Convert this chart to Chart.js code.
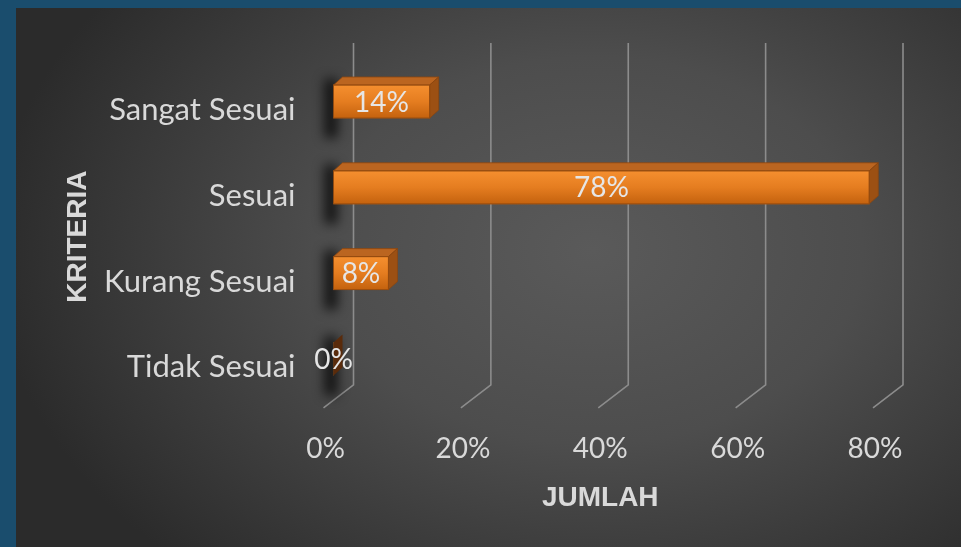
<!DOCTYPE html>
<html><head><meta charset="utf-8">
<script src="https://cdn.jsdelivr.net/npm/chart.js@4"></script>
<style>
html,body{margin:0;padding:0;width:961px;height:547px;overflow:hidden;background:#1a4d6d;}
#panel{position:absolute;left:16px;top:8px;width:945px;height:539px;background:radial-gradient(600px 430px at 61% 45%, #5a5a5a 0%, #4d4d4d 45%, #2b2b2b 100%);}
#wrap{position:absolute;left:0;top:0;width:961px;height:547px;}
</style></head><body>
<div id="panel"></div>
<div id="wrap"><canvas id="c" width="961" height="547"></canvas></div>
<script>
const categories = ['Sangat Sesuai', 'Sesuai', 'Kurang Sesuai', 'Tidak Sesuai'];
const values = [14, 78, 8, 0];
const xTickValues = [0, 20, 40, 60, 80];
const xTitle = 'JUMLAH';
const yTitle = 'KRITERIA';

const DX = 9, DY = 8;
const TXT = '#d9d9d9';

const gridPlugin = {
  id: 'grid3d',
  beforeDatasetsDraw(chart) {
    const ctx = chart.ctx, a = chart.chartArea, xs = chart.scales.x;
    ctx.save();
    ctx.strokeStyle = '#8c8c8c';
    ctx.lineWidth = 1.6;
    xTickValues.forEach(v => {
      const px = xs.getPixelForValue(v);
      ctx.beginPath();
      ctx.moveTo(px + 20, a.top - 15.5);
      ctx.lineTo(px + 20, a.bottom - 17);
      ctx.lineTo(px - 10, a.bottom + 6);
      ctx.stroke();
    });
    // shadows behind bars
    const meta = chart.getDatasetMeta(0);
    ctx.filter = 'blur(6px)';
    ctx.fillStyle = 'rgba(0,0,0,0.75)';
    meta.data.forEach(el => {
      const p = el.getProps(['x', 'y', 'base', 'height'], true);
      const yt = p.y - p.height / 2;
      ctx.fillRect(p.base - 9, yt - 6, 13, p.height + 26);
    });
    ctx.filter = 'none';
    ctx.restore();
  },
  afterDatasetsDraw(chart) {
    const ctx = chart.ctx;
    const meta = chart.getDatasetMeta(0);
    ctx.save();
    meta.data.forEach((el, i) => {
      const p = el.getProps(['x', 'y', 'base', 'height'], true);
      const yt = p.y - p.height / 2, yb = p.y + p.height / 2;
      const x0 = p.base, x1 = p.x;
      if (values[i] > 0) {
        ctx.fillStyle = '#bb6520';
        ctx.beginPath();
        ctx.moveTo(x0, yt); ctx.lineTo(x1, yt); ctx.lineTo(x1 + DX, yt - DY); ctx.lineTo(x0 + DX, yt - DY); ctx.closePath();
        ctx.fill();
        ctx.strokeStyle = 'rgba(140,70,15,0.8)'; ctx.lineWidth = 1; ctx.stroke();
        ctx.fillStyle = '#9c5013';
        ctx.beginPath();
        ctx.moveTo(x1, yt); ctx.lineTo(x1 + DX, yt - DY); ctx.lineTo(x1 + DX, yb - DY); ctx.lineTo(x1, yb); ctx.closePath();
        ctx.fill(); ctx.stroke();
        ctx.strokeStyle = 'rgba(150,75,15,0.9)';
        ctx.strokeRect(x0, yt, x1 - x0, yb - yt);
      } else {
        ctx.fillStyle = '#5a2b0b';
        ctx.beginPath();
        ctx.moveTo(x0, yt); ctx.lineTo(x0 + DX, yt - DY); ctx.lineTo(x0 + DX, yb - DY); ctx.lineTo(x0, yb); ctx.closePath();
        ctx.fill();
      }
    });
    ctx.font = '28px Lato';
    ctx.fillStyle = '#e6e6e6';
    ctx.textAlign = 'center';
    ctx.textBaseline = 'middle';
    meta.data.forEach((el, i) => {
      const p = el.getProps(['x', 'y', 'base'], true);
      ctx.fillText(values[i] + '%', (p.base + p.x) / 2, p.y + 1);
    });
    ctx.restore();
  },
  afterDraw(chart) {
    const ctx = chart.ctx, a = chart.chartArea;
    ctx.save();
    ctx.fillStyle = TXT;
    ctx.font = 'bold 28px "Liberation Sans"';
    ctx.textAlign = 'center';
    ctx.textBaseline = 'middle';
    ctx.fillText(xTitle, (a.left + a.right) / 2 - 8, a.bottom + 96);
    ctx.translate(78, (a.top + a.bottom) / 2 + 6.5);
    ctx.rotate(-Math.PI / 2);
    ctx.fillText(yTitle, 0, 0);
    ctx.restore();
  }
};

new Chart(document.getElementById('c'), {
  type: 'bar',
  data: {
    labels: categories,
    datasets: [{
      data: values,
      barThickness: 33,
      borderWidth: 0,
      backgroundColor: (c) => {
        const ch = c.chart;
        if (!ch.chartArea) return '#e07a22';
        const yc = ch.scales.y.getPixelForValue(c.dataIndex);
        const g = ch.ctx.createLinearGradient(0, yc - 16.5, 0, yc + 16.5);
        g.addColorStop(0, '#f58f2f');
        g.addColorStop(0.5, '#e57d20');
        g.addColorStop(1, '#c4620e');
        return g;
      }
    }]
  },
  options: {
    indexAxis: 'y',
    responsive: false,
    animation: false,
    layout: { padding: { left: 0, right: 78, top: 58.6, bottom: 0 } },
    plugins: { legend: { display: false }, tooltip: { enabled: false } },
    scales: {
      x: {
        type: 'linear', min: 0, max: 80, position: 'bottom',
        afterBuildTicks: s => { s.ticks = xTickValues.map(v => ({ value: v })); },
        afterFit: s => { s.height = 145.2; },
        grid: { display: false, drawTicks: false },
        border: { display: false },
        ticks: { callback: v => v + '%', font: { family: 'Lato', size: 28 }, color: TXT, padding: 30, labelOffset: -8, maxRotation: 0 },
        title: { display: false }
      },
      y: {
        type: 'category',
        afterFit: s => { s.width = 333.5; },
        grid: { display: false, drawTicks: false },
        border: { display: false },
        ticks: { font: { family: 'Lato', size: 31 }, color: TXT, padding: 38, labelOffset: 8.5 },
        title: { display: false }
      }
    }
  },
  plugins: [gridPlugin]
});
</script>
</body></html>
